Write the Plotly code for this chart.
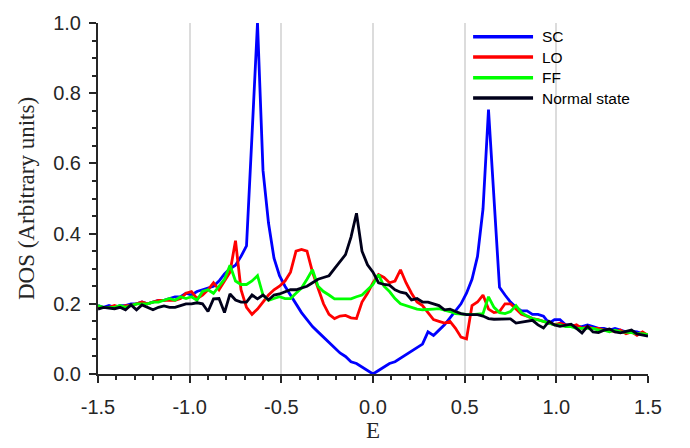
import numpy as np
import plotly.graph_objects as go

E = np.round(np.linspace(-1.5, 1.5, 101), 2)

SC = [0.195, 0.19, 0.195, 0.19, 0.195, 0.195, 0.20, 0.20, 0.205, 0.20,
      0.205, 0.21, 0.21, 0.215, 0.22, 0.22, 0.23, 0.225, 0.235, 0.24,
      0.245, 0.25, 0.265, 0.285, 0.30, 0.31, 0.335, 0.365, 0.68, 1.0,
      0.58, 0.43, 0.33, 0.28, 0.25, 0.225, 0.20, 0.175, 0.155, 0.135,
      0.12, 0.105, 0.09, 0.075, 0.06, 0.05, 0.035, 0.03, 0.02, 0.01,
      0.0,
      0.01, 0.02, 0.03, 0.035, 0.045, 0.055, 0.065, 0.075, 0.085, 0.12,
      0.11, 0.125, 0.14, 0.16, 0.18, 0.20, 0.23, 0.27, 0.335, 0.47,
      0.753, 0.50, 0.247, 0.225, 0.205, 0.19, 0.18, 0.18, 0.17, 0.17,
      0.165, 0.145, 0.155, 0.155, 0.14, 0.14, 0.135, 0.135, 0.14, 0.135,
      0.13, 0.13, 0.125, 0.13, 0.125, 0.12, 0.122, 0.12, 0.115, 0.11]

LO = [0.19, 0.19, 0.19, 0.195, 0.19, 0.195, 0.195, 0.20, 0.205, 0.20,
      0.205, 0.21, 0.21, 0.21, 0.21, 0.215, 0.23, 0.235, 0.215, 0.225,
      0.24, 0.26, 0.24, 0.265, 0.29, 0.38, 0.24, 0.19, 0.17, 0.185,
      0.205, 0.225, 0.24, 0.25, 0.265, 0.29, 0.35, 0.355, 0.35, 0.29,
      0.245, 0.20, 0.17, 0.158, 0.165, 0.167, 0.16, 0.158, 0.205, 0.23,
      0.26,
      0.283, 0.275, 0.26, 0.265, 0.297, 0.26, 0.23, 0.205, 0.195, 0.175,
      0.155, 0.15, 0.145, 0.15, 0.13, 0.105, 0.10, 0.195, 0.205, 0.225,
      0.185, 0.175, 0.178, 0.20, 0.20, 0.185, 0.17, 0.165, 0.158, 0.155,
      0.15, 0.145, 0.14, 0.145, 0.14, 0.135, 0.14, 0.13, 0.135, 0.13,
      0.13, 0.125, 0.125, 0.12, 0.125, 0.115, 0.12, 0.11, 0.12, 0.11]

FF = [0.195, 0.19, 0.19, 0.19, 0.195, 0.19, 0.195, 0.20, 0.20, 0.20,
      0.205, 0.205, 0.21, 0.215, 0.21, 0.22, 0.215, 0.22, 0.21, 0.235,
      0.24, 0.23, 0.25, 0.27, 0.31, 0.265, 0.255, 0.255, 0.265, 0.28,
      0.225, 0.21, 0.215, 0.22, 0.215, 0.215, 0.23, 0.245, 0.27, 0.297,
      0.25, 0.235, 0.225, 0.214, 0.214, 0.214, 0.214, 0.22, 0.225, 0.24,
      0.255,
      0.283, 0.25, 0.235, 0.215, 0.20, 0.195, 0.19, 0.185, 0.183, 0.185,
      0.185, 0.186, 0.183, 0.178, 0.172, 0.17, 0.17, 0.169, 0.17, 0.172,
      0.22, 0.19, 0.175, 0.172, 0.178, 0.195, 0.175, 0.165, 0.158, 0.155,
      0.15, 0.145, 0.14, 0.14, 0.135, 0.135, 0.13, 0.13, 0.13, 0.13,
      0.125, 0.125, 0.12, 0.125, 0.12, 0.12, 0.118, 0.115, 0.115, 0.112]

NORMAL = [0.185, 0.19, 0.188, 0.186, 0.19, 0.183, 0.197, 0.183, 0.197, 0.19,
          0.183, 0.19, 0.194, 0.19, 0.19, 0.195, 0.20, 0.20, 0.203, 0.20,
          0.178, 0.214, 0.215, 0.175, 0.228, 0.211, 0.205, 0.205, 0.225, 0.214,
          0.225, 0.211, 0.225, 0.228, 0.233, 0.24, 0.24, 0.245, 0.25, 0.26,
          0.27, 0.275, 0.28, 0.30, 0.32, 0.34, 0.39, 0.458, 0.35, 0.311,
          0.29,
          0.26, 0.255, 0.253, 0.24, 0.233, 0.23, 0.211, 0.215, 0.205, 0.205,
          0.20, 0.195, 0.183, 0.185, 0.178, 0.172, 0.169, 0.17, 0.169, 0.165,
          0.158, 0.156, 0.156, 0.156, 0.157, 0.145, 0.148, 0.152, 0.153, 0.14,
          0.131, 0.15, 0.14, 0.136, 0.14, 0.142, 0.13, 0.117, 0.136, 0.12,
          0.118, 0.125, 0.128, 0.12, 0.117, 0.122, 0.125, 0.114, 0.11, 0.108]

NAMES = ["SC", "LO", "FF", "Normal state"]
COLORS = ["#0000ff", "#ff0000", "#00ff00", "#00001a"]
VALUES = [SC, LO, FF, NORMAL]

XTICKS = [-1.5, -1.0, -0.5, 0.0, 0.5, 1.0, 1.5]
YTICKS = [0.0, 0.2, 0.4, 0.6, 0.8, 1.0]

fig = go.Figure()
for name, vals, col in zip(NAMES, VALUES, COLORS):
    fig.add_trace(go.Scatter(x=E, y=vals, mode="lines", name=name,
                             line=dict(color=col, width=2.8), showlegend=False))

# legend drawn manually (long line samples)
leg_y = [0.961, 0.903, 0.844, 0.786]
for name, col, yy in zip(NAMES, COLORS, leg_y):
    fig.add_shape(type="line", xref="paper", yref="paper",
                  x0=0.682, x1=0.791, y0=yy, y1=yy,
                  line=dict(color=col, width=3.5))
    fig.add_annotation(xref="paper", yref="paper", x=0.803, y=yy,
                       xanchor="left", yanchor="middle", showarrow=False,
                       text=name,
                       font=dict(family="Liberation Sans, Arial, sans-serif",
                                 size=15.5, color="#000000"))

tickfont = dict(family="Liberation Sans, Arial, sans-serif", size=20, color="#262626")
fig.update_layout(
    width=690, height=448,
    margin=dict(l=98, r=42, t=14, b=74),
    paper_bgcolor="white", plot_bgcolor="white",
    showlegend=False,
)
fig.update_xaxes(
    range=[-1.5, 1.5], tickvals=XTICKS, ticktext=[f"{v:.1f}" for v in XTICKS],
    tickfont=tickfont, showgrid=True, gridcolor="#dcdcdc", gridwidth=1.5,
    zeroline=False, showline=True, linecolor="#262626", linewidth=2,
    ticks="outside", ticklen=7, tickwidth=2, tickcolor="#262626",
    ticklabelstandoff=7,
    minor=dict(dtick=0.1, tick0=0, ticks="outside", ticklen=4, tickwidth=1.5,
               tickcolor="#262626", showgrid=False),
    title=dict(text="E", font=dict(family="Liberation Serif, serif", size=23, color="#262626"),
               standoff=2),
)
fig.update_yaxes(
    range=[0, 1], tickvals=YTICKS, ticktext=[f"{v:.1f}" for v in YTICKS],
    tickfont=tickfont, showgrid=False,
    zeroline=False, showline=True, linecolor="#262626", linewidth=2,
    ticks="outside", ticklen=7, tickwidth=2, tickcolor="#262626",
    ticklabelstandoff=4,
    minor=dict(dtick=0.05, tick0=0, ticks="outside", ticklen=4, tickwidth=1.5,
               tickcolor="#262626", showgrid=False),
    title=dict(text="DOS (Arbitrary units)",
               font=dict(family="Liberation Serif, serif", size=23, color="#262626"),
               standoff=12),
)

fig.write_html("out.html")
